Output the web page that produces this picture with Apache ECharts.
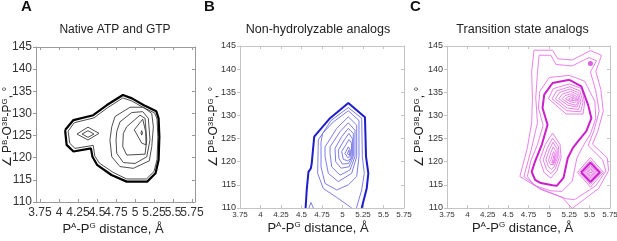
<!DOCTYPE html>
<html>
<head>
<meta charset="utf-8">
<script src="https://cdn.jsdelivr.net/npm/echarts@6/dist/echarts.min.js"></script>
<style>
  html, body { margin: 0; padding: 0; background: #fff; }
  #chart { width: 617px; height: 241px; }
</style>
</head>
<body>
<div id="chart"></div>
<script>
const FONT = '"Liberation Sans", Arial, Helvetica, sans-serif'
const X_TICKS = [3.75, 4, 4.25, 4.5, 4.75, 5, 5.25, 5.5, 5.75]
// panel A labels are crammed and overlap, so they are split over two label rows at the same place
const X_LABELS_A1 = [3.75, 4.25, 4.75, 5.25, 5.75]
const X_LABELS_A2 = [4, 4.5, 5, 5.5]

// ---- panel A: native ATP and GTP (black) ----
const nativeOuter = [[4.08,126.25],[4.19,128.5],[4.45,129.6],[4.63,131.9],[4.84,134.15],[4.96,133.4],[5.11,131.9],[5.28,130.5],[5.31,128.9],[5.32,124.7],[5.31,119.5],[5.27,116.5],[5.16,114.6],[4.89,114.6],[4.69,116.1],[4.50,118.4],[4.44,120.2],[4.42,122.1],[4.19,121.4],[4.10,122.9],[4.08,126.25]]
const nativeLevels = [
  [[4.12,126.0],[4.20,127.9],[4.46,129.0],[4.64,131.3],[4.84,133.5],[4.96,132.8],[5.10,131.4],[5.26,130.1],[5.29,128.7],[5.30,124.7],[5.29,119.6],[5.25,116.9],[5.15,115.2],[4.89,115.2],[4.71,116.7],[4.53,118.8],[4.47,120.4],[4.45,122.8],[4.21,122.1],[4.14,123.3],[4.12,126.0]],
  [[4.236,125.35],[4.381,126.9],[4.526,125.5],[4.381,124.0],[4.236,125.35]],
  [[4.303,125.35],[4.381,126.1],[4.46,125.35],[4.381,124.6],[4.303,125.35]],
  [[4.694,127.0],[4.737,129.3],[4.934,131.4],[5.110,131.4],[5.220,130.0],[5.241,127.0],[5.220,122.5],[5.188,119.3],[4.977,117.6],[4.802,118.0],[4.694,120.2],[4.670,124.0],[4.694,127.0]],
  [[4.759,125.9],[4.802,128.1],[4.957,130.2],[5.101,130.4],[5.175,128.9],[5.197,124.0],[5.154,120.2],[5.000,118.7],[4.846,118.9],[4.759,121.0],[4.750,124.0],[4.759,125.9]],
  [[4.846,125.5],[4.891,127.0],[5.065,129.6],[5.132,128.9],[5.154,124.0],[5.132,120.8],[4.891,120.6],[4.838,122.5],[4.846,125.5]],
  [[4.990,126.3],[5.101,128.7],[5.140,125.9],[5.145,122.9],[5.088,123.3],[4.990,126.3]],
  [[5.078,125.6],[5.088,126.1],[5.098,125.6],[5.088,125.1],[5.078,125.6]]
]

// ---- panel B: non-hydrolyzable analogs (blue) ----
const analogOuter = [[4.55,110],[4.565,114.2],[4.585,117.8],[4.615,118.6],[4.625,119.7],[4.655,125.4],[4.848,129.4],[5.071,132.7],[5.274,129.6],[5.287,121.1],[5.315,117.5],[5.295,114.2],[5.234,110]]
const analogLevels = [
  [[4.59,110],[4.615,111.2],[4.645,110]],
  [[5.17,110],[5.234,113.9],[5.266,117.5],[5.242,121.1],[5.234,129.4],[5.071,131.7],[4.86,128.9],[4.705,124.7],[4.697,117.5],[4.766,114.2],[4.929,112.3],[5.112,110]],
  [[4.738,124.3],[4.758,126.1],[4.888,128.6],[5.071,131.0],[5.201,128.9],[5.201,121.1],[5.173,116.8],[5.071,115.0],[4.929,113.9],[4.787,115.3],[4.738,118.9],[4.738,124.3]],
  [[4.787,123.2],[4.929,127.2],[5.071,129.7],[5.173,127.9],[5.173,121.1],[5.112,117.5],[4.949,115.7],[4.827,117.5],[4.787,121.1],[4.787,123.2]],
  [[4.848,123.2],[4.970,126.5],[5.071,128.4],[5.152,126.8],[5.152,121.1],[5.091,118.2],[4.970,117.1],[4.868,118.9],[4.848,121.8],[4.848,123.2]],
  [[4.909,122.9],[4.990,125.4],[5.071,127.2],[5.132,126.1],[5.132,121.1],[5.079,118.9],[4.982,118.6],[4.917,120.0],[4.909,122.9]],
  [[4.949,122.5],[5.022,124.7],[5.079,126.1],[5.120,125.0],[5.120,121.1],[5.071,119.6],[4.998,119.5],[4.957,120.7],[4.949,122.5]],
  [[4.990,122.2],[5.039,123.6],[5.079,124.8],[5.112,124.0],[5.104,120.7],[5.063,120.2],[5.010,120.5],[4.990,122.2]],
  [[5.030,121.8],[5.071,123.2],[5.095,122.5],[5.095,121.1],[5.063,120.9],[5.030,121.8]],
  [[5.059,121.7],[5.079,122.5],[5.087,121.4],[5.059,121.7]]
]

// ---- panel C: transition state analogs (magenta) ----
const tsOuter = [[5.253,137.7],[5.398,136.3],[5.481,132.3],[5.522,129.4],[5.460,126.6],[5.357,124.4],[5.295,123.0],[5.232,120.8],[5.179,116.5],[5.096,114.8],[5.046,114.9],[4.901,115.4],[4.831,116.1],[4.789,117.8],[4.831,120.1],[4.914,123.7],[4.984,128.0],[4.922,131.6],[4.943,134.5],[5.046,137.0],[5.253,137.7]]
const tsSideOuter = [[5.395,117.7],[5.51,119.8],[5.625,117.7],[5.51,115.6],[5.395,117.7]]
const tsLevels = [
  [[5.005,138.2],[5.253,138.65],[5.439,137.4],[5.564,133.0],[5.576,129.4],[5.510,126.0],[5.410,123.1],[5.344,120.8],[5.286,115.8],[5.162,113.6],[5.025,113.7],[4.818,114.9],[4.736,116.8],[4.777,120.1],[4.860,123.7],[4.930,127.9],[4.872,131.6],[4.889,135.2],[5.005,138.2]],
  [[4.880,143.0],[5.025,143.0],[5.087,141.0],[5.286,140.7],[5.493,142.5],[5.584,141.8],[5.510,139.4],[5.576,135.3],[5.617,130.9],[5.551,126.6],[5.481,123.5],[5.659,120.4],[5.70,118.0],[5.575,114.8],[5.315,111.8],[5.212,112.0],[4.901,114.0],[4.694,116.8],[4.789,123.0],[4.860,128.4],[4.839,133.8],[4.860,139.2],[4.880,143.0]],
  [[4.818,144.1],[5.046,144.1],[5.108,142.25],[5.286,141.97],[5.510,144.0],[5.646,143.0],[5.576,139.5],[5.638,135.6],[5.667,130.9],[5.601,126.6],[5.535,123.8],[5.717,120.8],[5.733,118.1],[5.61,114.2],[5.286,109.9],[5.162,112.3],[4.880,114.3],[4.644,116.8],[4.736,123.0],[4.789,128.4],[4.798,133.8],[4.789,139.5],[4.818,144.1]],
  [[4.996,133.6],[5.054,135.8],[5.253,136.8],[5.402,135.8],[5.439,132.7],[5.419,130.3],[5.212,130.3],[4.996,133.6]],
  [[5.038,133.6],[5.096,135.3],[5.257,136.2],[5.381,135.3],[5.419,132.8],[5.390,130.8],[5.220,131.0],[5.038,133.6]],
  [[5.079,133.6],[5.133,135.0],[5.261,135.7],[5.365,134.9],[5.394,132.9],[5.365,131.3],[5.224,131.6],[5.079,133.6]],
  [[5.121,133.6],[5.166,134.6],[5.270,135.2],[5.353,134.5],[5.373,133.0],[5.344,131.8],[5.232,132.2],[5.121,133.6]],
  [[5.162,133.6],[5.199,134.3],[5.278,134.7],[5.340,134.1],[5.357,133.0],[5.332,132.2],[5.245,132.6],[5.162,133.6]],
  [[5.203,133.6],[5.232,134.0],[5.286,134.3],[5.328,133.8],[5.344,133.2],[5.319,132.7],[5.261,133.0],[5.203,133.6]],
  [[5.241,133.5],[5.266,133.8],[5.295,133.9],[5.319,133.6],[5.332,133.25],[5.311,133.0],[5.278,133.2],[5.241,133.5]],
  [[5.278,133.5],[5.303,133.6],[5.315,133.4],[5.299,133.25],[5.278,133.5]],
  [[4.889,120.4],[4.955,123.7],[5.046,126.2],[5.137,123.7],[5.150,120.8],[5.096,117.9],[5.025,116.5],[4.943,117.6],[4.889,120.4]],
  [[4.930,120.4],[4.984,123.1],[5.046,125.1],[5.117,123.3],[5.125,120.8],[5.079,118.5],[5.025,117.4],[4.972,118.3],[4.930,120.4]],
  [[4.963,120.4],[5.005,122.6],[5.050,124.2],[5.100,122.8],[5.104,120.8],[5.067,119.0],[5.030,118.3],[4.996,118.9],[4.963,120.4]],
  [[4.996,120.3],[5.025,122.0],[5.054,123.2],[5.087,122.2],[5.087,120.65],[5.058,119.4],[5.034,119.1],[5.017,119.4],[4.996,120.3]],
  [[5.021,120.1],[5.042,121.4],[5.058,122.2],[5.075,121.5],[5.071,120.3],[5.050,119.6],[5.034,119.7],[5.021,120.1]],
  [[5.042,119.9],[5.054,120.8],[5.063,121.4],[5.067,120.6],[5.054,119.9],[5.042,119.9]],
  [[5.35,117.7],[5.51,120.9],[5.67,117.7],[5.51,114.5],[5.35,117.7]],
  [[5.373,117.7],[5.51,120.3],[5.647,117.7],[5.51,115.1],[5.373,117.7]],
  [[5.412,117.7],[5.51,119.5],[5.608,117.7],[5.51,115.9],[5.412,117.7]],
  [[5.428,117.7],[5.51,119.2],[5.592,117.7],[5.51,116.2],[5.428,117.7]],
  [[5.444,117.7],[5.51,118.9],[5.576,117.7],[5.51,116.5],[5.444,117.7]],
  [[5.46,117.7],[5.51,118.6],[5.56,117.7],[5.51,116.8],[5.46,117.7]],
  [[5.476,117.7],[5.51,118.3],[5.544,117.7],[5.51,117.1],[5.476,117.7]],
  [[5.492,117.7],[5.51,118.02],[5.528,117.7],[5.51,117.38],[5.492,117.7]]
]
const tsPeak = [[5.51, 141.2]]

const panels = [
  { grid: { left: 36, top: 47, width: 159, height: 155 }, xMin: 3.697, xMax: 5.789,
    box: '#9a9a9a', xFont: 12, yFont: 12, xMargin: 5, yMargin: 4, labels: X_LABELS_A1 },
  { grid: { left: 240, top: 46, width: 164, height: 162 }, xMin: 3.75, xMax: 5.75,
    box: '#c4c4c4', xFont: 8, yFont: 9, xMargin: 3, yMargin: 4, labels: X_TICKS },
  { grid: { left: 447, top: 46, width: 163, height: 162 }, xMin: 3.75, xMax: 5.75,
    box: '#c4c4c4', xFont: 8, yFont: 9, xMargin: 3, yMargin: 4, labels: X_TICKS },
]

const xAxes = [], yAxes = []
panels.forEach((p, i) => {
  const lineStyle = { color: p.box, width: 1 }
  const base = { type: 'value', gridIndex: i, splitLine: { show: false } }
  xAxes.push({ ...base, min: p.xMin, max: p.xMax, position: 'bottom',
    axisLine: { show: true, onZero: false, lineStyle },
    axisTick: { show: true, inside: true, length: 3, customValues: X_TICKS, lineStyle },
    axisLabel: { show: true, customValues: p.labels, hideOverlap: false,
      fontSize: p.xFont, fontFamily: FONT, color: '#333', margin: p.xMargin } })
  xAxes.push({ ...base, min: p.xMin, max: p.xMax, position: 'top',
    axisLine: { show: true, onZero: false, lineStyle },
    axisTick: { show: true, inside: true, length: 3, customValues: X_TICKS, lineStyle },
    axisLabel: { show: false } })
  yAxes.push({ ...base, min: 110, max: 145, interval: 5, position: 'left',
    axisLine: { show: true, onZero: false, lineStyle },
    axisTick: { show: true, inside: false, length: 3, lineStyle },
    axisLabel: { show: true, fontSize: p.yFont, fontFamily: FONT, color: '#333', margin: p.yMargin } })
  yAxes.push({ ...base, min: 110, max: 145, interval: 5, position: 'right',
    axisLine: { show: true, onZero: false, lineStyle },
    axisTick: { show: true, inside: true, length: 3, lineStyle },
    axisLabel: { show: false } })
})
// extra invisible grid over panel A carrying the second row of its x labels
const gridA = panels[0]
xAxes.push({ type: 'value', gridIndex: 3, min: gridA.xMin, max: gridA.xMax, position: 'bottom',
  axisLine: { show: false, onZero: false }, axisTick: { show: false }, splitLine: { show: false },
  axisLabel: { show: true, customValues: X_LABELS_A2, hideOverlap: false,
    fontSize: gridA.xFont, fontFamily: FONT, color: '#333', margin: gridA.xMargin } })
yAxes.push({ type: 'value', gridIndex: 3, min: 110, max: 145, show: false })

function contour(data, panel, color, width, z) {
  return {
    type: 'line', xAxisIndex: panel * 2, yAxisIndex: panel * 2, data,
    symbol: 'none', smooth: false, silent: true, animation: false, z: z || 2,
    lineStyle: { color, width },
  }
}

const series = [
  ...nativeLevels.map(d => contour(d, 0, '#3a3a3a', 0.9)),
  contour(nativeOuter, 0, '#000', 2.2, 3),
  ...analogLevels.map(d => contour(d, 1, '#6e6ee6', 0.9)),
  contour(analogOuter, 1, '#1d1dcc', 2, 3),
  ...tsLevels.map(d => contour(d, 2, '#e673e6', 0.9)),
  contour(tsOuter, 2, '#cc1fcc', 2, 3),
  contour(tsSideOuter, 2, '#cc1fcc', 2, 3),
  { type: 'scatter', xAxisIndex: 4, yAxisIndex: 4, data: tsPeak, symbolSize: 5,
    itemStyle: { color: '#d633d6' }, silent: true, animation: false, z: 4 },
]

const titles = [
  { x: 115, text: 'Native ATP and GTP', size: 12 },
  { x: 318, text: 'Non-hydrolyzable analogs', size: 12.5 },
  { x: 522.5, text: 'Transition state analogs', size: 12.5 },
]
const letters = [{ x: 21, t: 'A' }, { x: 204, t: 'B' }, { x: 410, t: 'C' }]
const xNames = [{ x: 113, y: 229 }, { x: 318, y: 228 }, { x: 522.5, y: 228 }]
const yNames = [{ x: 8, y: 127 }, { x: 214, y: 127 }, { x: 420, y: 127 }]

const rich = {
  n: { fontSize: 13, fontFamily: FONT, fill: '#222', color: '#222', lineHeight: 15 },
  s: { fontSize: 8, fontFamily: FONT, fill: '#222', color: '#222', lineHeight: 9, verticalAlign: 'top' },
  m: { fontSize: 12, fontFamily: FONT, fill: '#222', color: '#222', lineHeight: 15 },
}
const textStyle = (extra) => Object.assign({ align: 'center', verticalAlign: 'middle',
  textAlign: 'center', textVerticalAlign: 'middle', fill: '#222' }, extra)

const graphic = [
  ...titles.map(t => ({ type: 'text', x: t.x, y: 30, silent: true,
    style: textStyle({ text: t.text, font: t.size + 'px ' + FONT }) })),
  ...letters.map(l => ({ type: 'text', x: l.x, y: 7, silent: true,
    style: textStyle({ text: l.t, font: 'bold 15px ' + FONT, align: 'left', textAlign: 'left', fill: '#111' }) })),
  ...xNames.map(n => ({ type: 'text', x: n.x, y: n.y, silent: true,
    style: textStyle({ text: '{n|P}{s|A}{n|-P}{s|G}{n| distance, Å}', rich }) })),
  ...yNames.map(n => ({ type: 'text', x: n.x, y: n.y, rotation: Math.PI / 2, silent: true,
    style: textStyle({ text: '{m|∠ P}{s|B}{m|-O}{s|3B}{m|-P}{s|G}{m|, °}', rich }) })),
]

const chart = echarts.init(document.getElementById('chart'), null, { renderer: 'canvas' })
chart.setOption({
  animation: false,
  backgroundColor: '#fff',
  grid: [...panels.map(p => ({ ...p.grid, containLabel: false, outerBoundsMode: 'none' })),
    { ...gridA.grid, containLabel: false, outerBoundsMode: 'none' }],
  xAxis: xAxes,
  yAxis: yAxes,
  series,
  graphic,
})
</script>
</body>
</html>
